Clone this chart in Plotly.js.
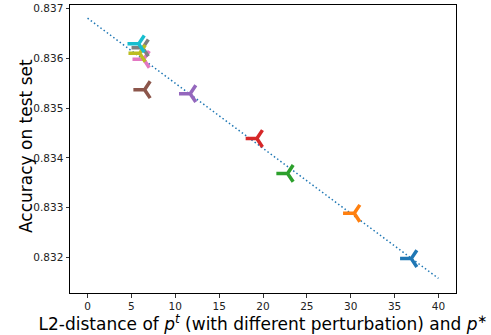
<!DOCTYPE html>
<html>
<head>
<meta charset="utf-8">
<script src="https://cdn.plot.ly/plotly-3.0.1.min.js"></script>
<style>html,body{margin:0;padding:0;background:#fff;}#chart{width:491px;height:335px;}</style>
</head>
<body>
<div id="chart"></div>
<script>
// Points (L2 distance, accuracy), one per perturbation, tab10 color order
const distances = [36.9, 30.4, 22.8, 19.3, 11.7, 6.5, 6.4, 6.29, 5.94, 5.83];
const accuracies = [0.83198, 0.83289, 0.83369, 0.83439, 0.83529, 0.83537, 0.83598, 0.83621, 0.83610, 0.83629];
const colors = ['#1f77b4', '#ff7f0e', '#2ca02c', '#d62728', '#9467bd', '#8c564b', '#e377c2', '#7f7f7f', '#bcbd22', '#17becf'];
// Fitted trend line
const fitX = [0, 40];
const fitY = [0.836805, 0.831583];
const xTicks = [0, 5, 10, 15, 20, 25, 30, 35, 40];
const yTicks = [0.832, 0.833, 0.834, 0.835, 0.836, 0.837];

const traces = [{
  x: fitX, y: fitY, mode: 'lines', type: 'scatter',
  line: {color: '#1f77b4', width: 1.5, dash: '1.5px,2.5px'},
  hoverinfo: 'skip', showlegend: false
}];
for (let i = 0; i < distances.length; i++) {
  traces.push({
    x: [distances[i]], y: [accuracies[i]], mode: 'markers', type: 'scatter',
    marker: {symbol: 'y-left', size: 14, color: colors[i], line: {color: colors[i], width: 3.5}},
    showlegend: false
  });
}
const layout = {
  width: 491, height: 335,
  margin: {l: 70, r: 35, t: 5, b: 42},
  paper_bgcolor: '#fff', plot_bgcolor: '#fff',
  showlegend: false,
  xaxis: {
    range: [-2, 42], tickvals: xTicks, ticktext: xTicks.map(String),
    showgrid: false, zeroline: false, showline: true, mirror: true,
    linecolor: '#000', linewidth: 1, ticks: 'outside', ticklen: 3.5, tickwidth: 0.8, tickcolor: '#000',
    tickfont: {family: 'DejaVu Sans', size: 10.5, color: '#222'},
    title: {text: 'L2-distance of <i>p</i><sup><i>t</i></sup> (with different perturbation) and <i>p</i><sup>∗</sup>',
            font: {family: 'DejaVu Sans', size: 17, color: '#000'}, standoff: 3}
  },
  yaxis: {
    range: [0.83129, 0.83707], tickvals: yTicks, ticktext: yTicks.map(v => v.toFixed(3)),
    showgrid: false, zeroline: false, showline: true, mirror: true,
    linecolor: '#000', linewidth: 1, ticks: 'outside', ticklen: 3.5, tickwidth: 0.8, tickcolor: '#000',
    tickfont: {family: 'DejaVu Sans', size: 10.5, color: '#222'}
  },
  annotations: [{
    text: 'Accuracy on test set', xref: 'paper', yref: 'paper', x: 0, y: 0.5,
    xanchor: 'center', yanchor: 'middle', xshift: -44, yshift: 3, textangle: -90,
    showarrow: false, font: {family: 'DejaVu Sans', size: 17, color: '#000'}
  }]
};
Plotly.newPlot('chart', traces, layout, {displayModeBar: false, staticPlot: true});
</script>
</body>
</html>
